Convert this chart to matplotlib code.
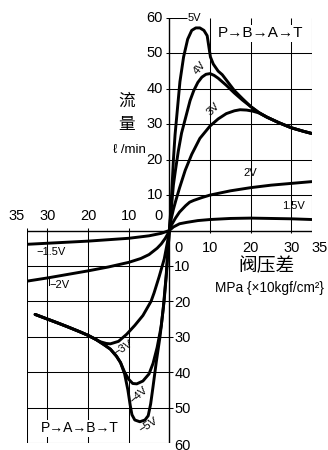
import matplotlib
matplotlib.use("Agg")
import matplotlib.pyplot as plt

plt.rcParams['font.family'] = ['Liberation Sans', 'DejaVu Sans']

# ---------------- data ----------------
# Quadrant I : P->B->A->T  (pressure drop, flow)
v5_x = [0, 0.3, 0.6, 1.0, 1.4, 1.8, 2.6, 3.5, 4.5, 5.5, 6.5, 7.5, 8.5, 9.3, 9.7, 10.1, 10.8, 12, 13, 14, 16, 18, 20, 22, 24, 27, 30, 33, 35]
v5_y = [0, 5, 11, 20, 27, 32, 42, 49, 54, 56.5, 57.2, 57.2, 56.5, 55, 52, 49, 47, 45, 44, 42.5, 39.5, 37.2, 35, 33.3, 32.0, 30.4, 29.0, 28.0, 27.4]
v4_x = [0, 0.4, 1.0, 1.5, 2.2, 3.0, 3.8, 5.1, 6, 7, 8, 9, 10, 11, 12, 14, 16, 18, 20, 22, 24, 27, 30, 33, 35]
v4_y = [0, 5, 12.9, 17, 22.4, 27.5, 31, 36.7, 39.5, 41.8, 43.3, 44.1, 44.3, 43.8, 43, 41, 38.8, 36.8, 35, 33.3, 32.0, 30.4, 29.0, 28.0, 27.4]
v3_x = [0, 0.5, 1.0, 1.6, 2.5, 3.9, 5.5, 7.5, 10, 12, 14, 16, 17.4, 19, 20.5, 22, 24, 27, 30, 33, 35]
v3_y = [0, 3.5, 6, 8.5, 12, 17, 21.5, 26, 29.5, 31.5, 33, 33.8, 34.1, 34.0, 33.7, 33.2, 32.0, 30.4, 29.0, 28.0, 27.4]
v2_x = [0, 0.5, 1.0, 1.5, 2.5, 4, 5, 6, 8, 10, 15, 20, 25, 30, 35]
v2_y = [0, 1.5, 2.5, 3.5, 5.2, 7, 8, 8.5, 9.3, 10, 11.2, 12.1, 12.8, 13.3, 13.8]
v15_x = [0, 1, 2.5, 4.3, 7, 10, 15, 20, 25, 30, 35]
v15_y = [0, 1, 1.9, 2.3, 2.8, 3.1, 3.4, 3.5, 3.4, 3.3, 3.1]

# Quadrant III : P->A->B->T (negative direction)
n15_x = [0, -2, -5, -10, -15, -20, -25, -30, -35]
n15_y = [0, -0.8, -1.5, -2.2, -2.6, -3.0, -3.3, -3.6, -3.9]
n2_x = [0, -0.5, -1, -2, -3, -5, -7, -10, -15, -20, -25, -30, -35]
n2_y = [0, -1.2, -2.2, -3.8, -5, -6.8, -7.9, -9, -10.3, -11.4, -12.4, -13.4, -14.3]
n3_x = [-33, -30, -27, -25, -22, -20, -18, -17, -15.5, -14.5, -12.5, -10.5, -8.5, -6.5, -4.5, -3.75, -2.5, -1.25, -0.5, 0]
n3_y = [-23.7, -25, -26.3, -27.2, -28.6, -29.6, -30.8, -31.4, -31.9, -32, -31.3, -29.3, -26.8, -24, -20, -17.6, -13, -8, -3.5, 0]
n4_x = [-33, -30, -27, -25, -22, -20, -18, -16, -14.5, -13, -12, -11, -10, -9, -8, -6.5, -5, -4, -3, -2, -1.3, -0.7, -0.3, 0]
n4_y = [-23.7, -25, -26.3, -27.2, -28.6, -29.6, -30.8, -32.3, -33.5, -35.5, -37.3, -40, -42, -43.2, -43.3, -42.5, -40.5, -37.5, -33, -27, -20, -12, -5, 0]
n5_x = [-33, -30, -27, -25, -22, -20, -18, -16, -14.5, -13, -12, -11, -10.2, -9.6, -9.2, -8.5, -7.25, -6, -5.2, -4.6, -4, -3.2, -2.3, -1.5, -0.8, -0.3, 0]
n5_y = [-23.7, -25, -26.3, -27.2, -28.6, -29.6, -30.8, -32.3, -33.5, -35.5, -37.3, -40.5, -45, -49.5, -52, -53.5, -54, -53.5, -52.3, -49, -44, -37, -30, -22, -13, -5, 0]

pos_x_ticks = [10, 20, 30]
pos_y_ticks = [10, 20, 30, 40, 50]
neg_x_ticks = [-10, -20, -30]
neg_y_ticks = [-10, -20, -30, -40, -50]
x_lim = 35
y_lim = 60

# ---------------- figure ----------------
fig = plt.figure(figsize=(3.28, 4.5), dpi=100)
ax = fig.add_axes([27/328, 7/450, 284.7/328, 425/450])
ax.set_xlim(-x_lim, x_lim)
ax.set_ylim(-y_lim, y_lim)
ax.axis('off')

gk = dict(color='black', lw=0.75, solid_capstyle='butt', zorder=1)
ak = dict(color='black', lw=1.0, solid_capstyle='butt', zorder=1)

# Quadrant I grid
for v in pos_x_ticks:
    ax.plot([v, v], [-0.8, y_lim], **gk)
for h in pos_y_ticks:
    ax.plot([-0.8, x_lim], [h, h], **gk)
ax.plot([x_lim, x_lim], [-0.8, y_lim], **gk)
ax.plot([0, x_lim], [0, 0], **ak)
ax.plot([0, 0], [0, y_lim], **ak)
ax.plot([-0.8, 4.4], [y_lim, y_lim], **gk)

# Quadrant III grid
for v in neg_x_ticks:
    ax.plot([v, v], [0.8, -y_lim], **gk)
for h in neg_y_ticks:
    ax.plot([-x_lim, 0.8], [h, h], **gk)
ax.plot([-x_lim, -x_lim], [0.8, -y_lim], **gk)
ax.plot([-x_lim, 0.8], [-y_lim, -y_lim], **gk)
ax.plot([-x_lim, 0], [0, 0], **ak)
ax.plot([0, 0], [0, -y_lim], **ak)

# curves
ck = dict(color='black', lw=2.1, solid_capstyle='round', solid_joinstyle='round', zorder=3)
for xs, ys in [(v5_x, v5_y), (v4_x, v4_y), (v3_x, v3_y), (v2_x, v2_y), (v15_x, v15_y),
               (n15_x, n15_y), (n2_x, n2_y), (n3_x, n3_y), (n4_x, n4_y), (n5_x, n5_y)]:
    ax.plot(xs, ys, **ck)

# tick labels
tf = 10.5
for h in pos_y_ticks + [y_lim]:
    ax.annotate(str(h), (0, h), xytext=(-4.5, 0), textcoords='offset points',
                ha='right', va='center', fontsize=tf)
for v in pos_x_ticks:
    ax.annotate(str(v), (v, 0), xytext=(0, -12.5), textcoords='offset points',
                ha='center', va='center', fontsize=tf)
ax.annotate(str(x_lim), (x_lim, 0), xytext=(-0.5, -12.5), textcoords='offset points',
            ha='left', va='center', fontsize=tf, annotation_clip=False)
for v in neg_x_ticks:
    ax.annotate(str(-v), (v, 0), xytext=(0, 10.5), textcoords='offset points',
                ha='center', va='center', fontsize=tf)
ax.annotate(str(x_lim), (-x_lim, 0), xytext=(-1.5, 10.5), textcoords='offset points',
            ha='right', va='center', fontsize=tf)
for h in neg_y_ticks + [-y_lim]:
    ax.annotate(str(-h), (0, h), xytext=(3.5, -1 if h != -y_lim else -2.5), textcoords='offset points',
                ha='left', va='center', fontsize=tf, annotation_clip=False)
ax.annotate('0', (0, 0), xytext=(-4.5, 10.5), textcoords='offset points',
            ha='right', va='center', fontsize=tf)
ax.annotate('0', (0, 0), xytext=(3.5, -12.5), textcoords='offset points',
            ha='left', va='center', fontsize=tf)

# axis titles
fig.text(127/328, 1 - 101/450, '流', fontsize=12, family=['Noto Sans CJK SC'], ha='center', va='center')
fig.text(127/328, 1 - 124/450, '量', fontsize=12, family=['Noto Sans CJK SC'], ha='center', va='center')
fig.text(129/328, 1 - 150/450, 'ℓ /min', fontsize=9.5, ha='center', va='center')
fig.text(266/328, 1 - 266/450, '阀压差', fontsize=13.5, family=['Noto Sans CJK SC'], ha='center', va='center')
fig.text(215/328, 1 - 288/450, 'MPa {×10kgf/cm²}', fontsize=9.8, ha='left', va='center')

# curve labels
lf = 8
ax.text(4.6, 60, '5V', fontsize=lf, ha='left', va='center', zorder=5)
ax.text(7.6, 45.8, '4V', fontsize=lf, rotation=50, ha='center', va='center', zorder=5)
ax.text(10.8, 34.4, '3V', fontsize=lf, rotation=45, ha='center', va='center', zorder=5)
ax.text(19.8, 16.1, '2V', fontsize=lf, ha='center', va='center', zorder=5)
ax.text(30.4, 6.9, '1.5V', fontsize=lf, ha='center', va='center', zorder=5)
ax.text(-29, -6.2, '−1.5V', fontsize=lf, ha='center', va='center', zorder=5)
ax.plot([-29.6, -29.6], [-13.6, -15.5], color='black', lw=0.7, zorder=5)
ax.text(-27, -15.5, '−2V', fontsize=lf, ha='center', va='center', zorder=5)
ax.text(-11.25, -33.2, '−3V', fontsize=lf, rotation=32, ha='center', va='center', zorder=5)
ax.text(-7.5, -46.5, '−4V', fontsize=lf, rotation=42, ha='center', va='center', zorder=5)
ax.text(-5.25, -55, '−5V', fontsize=lf, rotation=32, ha='center', va='center', zorder=5)

bb = dict(facecolor='white', edgecolor='none', pad=1.0)
ax.text(22.3, 55.7, 'P→B→A→T', fontsize=11, ha='center', va='center', bbox=bb, zorder=4)
ax.text(-22, -55.8, 'P→A→B→T', fontsize=10, ha='center', va='center', bbox=bb, zorder=4)

fig.savefig('out.png', dpi=100, facecolor='white')
